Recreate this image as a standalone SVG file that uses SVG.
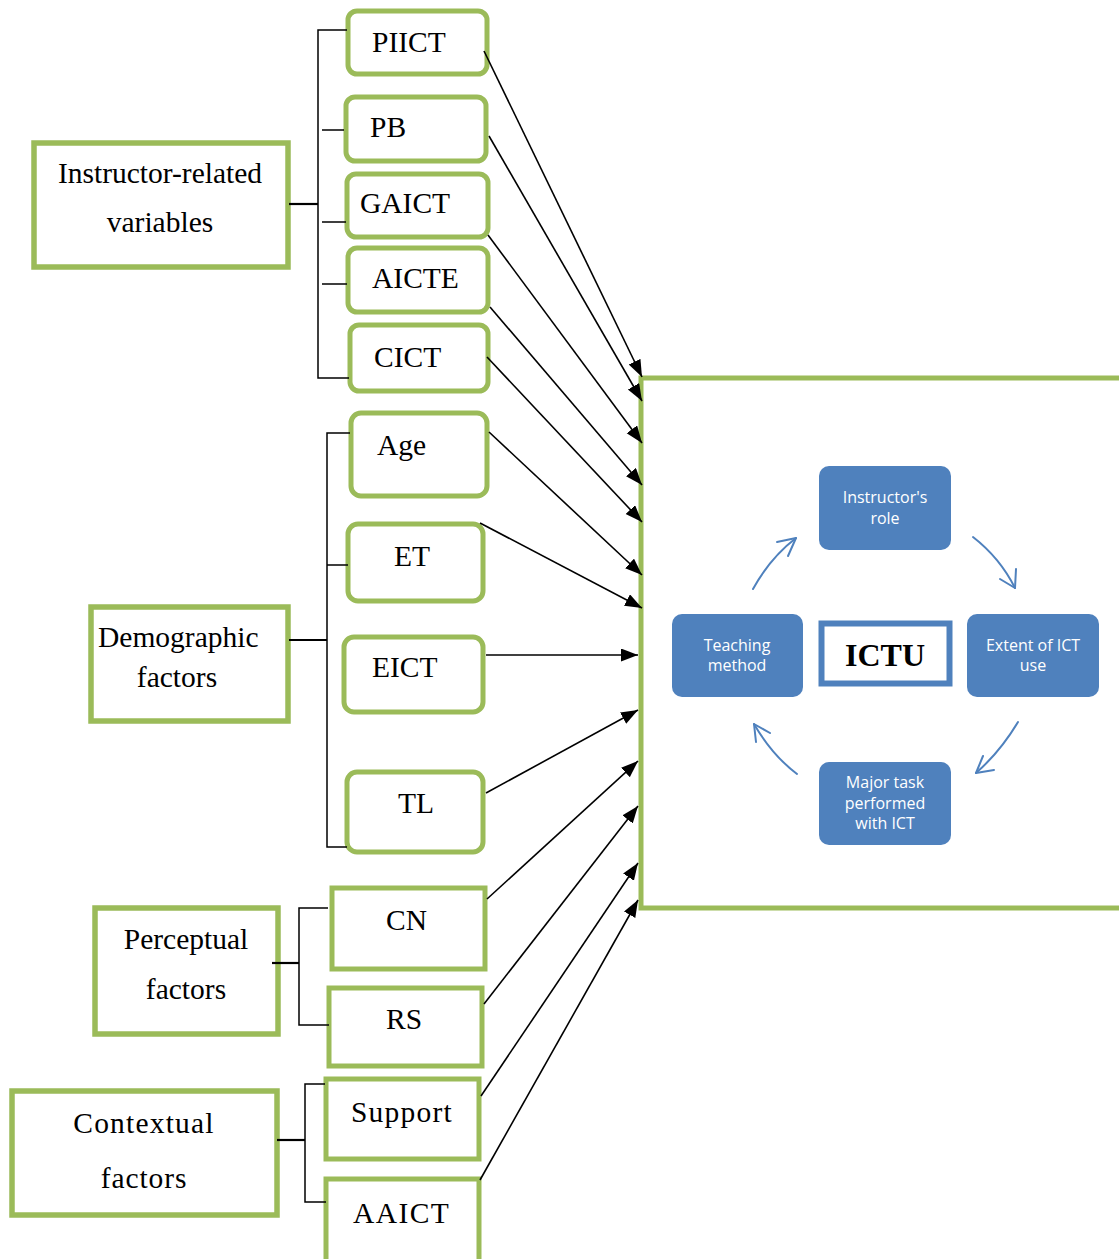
<svg xmlns="http://www.w3.org/2000/svg" width="1119" height="1259" viewBox="0 0 1119 1259">
  <style>
    .grp { fill: #ffffff; stroke: #9BBB59; stroke-width: 5.5; }
    .node { fill: #ffffff; stroke: #9BBB59; stroke-width: 5; }
    .lbl { font-family: "Liberation Serif", "Times New Roman", serif; font-size: 29.5px; fill: #000000; }
    .brk { fill: none; stroke: #000000; stroke-width: 1.5; }
    .main { fill: none; stroke: #000000; stroke-width: 2.2; }
    .arr { stroke: #000000; stroke-width: 1.6; marker-end: url(#tri); }
    .cyc { fill: #4F81BD; }
    .cyctxt { font-family: "Open Sans", "Noto Sans", sans-serif; font-size: 16px; fill: #ffffff; text-anchor: middle; }
    .curve { fill: none; stroke: #4F81BD; stroke-width: 2; stroke-linecap: round; stroke-linejoin: round; }
  </style>
  <defs>
    <marker id="tri" markerUnits="userSpaceOnUse" markerWidth="18" markerHeight="14" refX="17" refY="6.5" orient="auto">
      <path d="M0,0 L17,6.5 L0,13 z" fill="#000000"/>
    </marker>
  </defs>
  <rect width="1119" height="1259" fill="#ffffff"/>

  <!-- outcome panel -->
  <g id="ictu-panel">
    <rect x="641" y="378" width="600" height="530" fill="#ffffff" stroke="#9BBB59" stroke-width="5"/>
  </g>

  <!-- category boxes -->
  <g id="instructor-related">
    <rect class="grp" x="34" y="143" width="254" height="124"/>
    <text class="lbl" x="160" y="183" text-anchor="middle">Instructor-related</text>
    <text class="lbl" x="160" y="232" text-anchor="middle">variables</text>
  </g>
  <g id="demographic">
    <rect class="grp" x="91" y="607" width="197" height="114"/>
    <text class="lbl" x="98" y="647">Demographic</text>
    <text class="lbl" x="177" y="687" text-anchor="middle">factors</text>
  </g>
  <g id="perceptual">
    <rect class="grp" x="95" y="908" width="183" height="126"/>
    <text class="lbl" x="186" y="949" text-anchor="middle">Perceptual</text>
    <text class="lbl" x="186" y="999" text-anchor="middle">factors</text>
  </g>
  <g id="contextual">
    <rect class="grp" x="12" y="1091" width="265" height="124"/>
    <text class="lbl" x="144" y="1133" text-anchor="middle" font-size="32" letter-spacing="1.2">Contextual</text>
    <text class="lbl" x="144" y="1188" text-anchor="middle" font-size="32" letter-spacing="0.9">factors</text>
  </g>

  <!-- variable nodes -->
  <g id="piict"><rect class="node" x="348" y="11" width="139" height="63" rx="9"/><text class="lbl" x="372" y="52">PIICT</text></g>
  <g id="pb"><rect class="node" x="346" y="97" width="140" height="64" rx="9"/><text class="lbl" x="370" y="137">PB</text></g>
  <g id="gaict"><rect class="node" x="347" y="174" width="141" height="63" rx="9"/><text class="lbl" x="360" y="213">GAICT</text></g>
  <g id="aicte"><rect class="node" x="348" y="248" width="140" height="64" rx="9"/><text class="lbl" x="372" y="288">AICTE</text></g>
  <g id="cict"><rect class="node" x="350" y="325" width="138" height="66" rx="9"/><text class="lbl" x="374" y="367">CICT</text></g>
  <g id="age"><rect class="node" x="351" y="413" width="136" height="83" rx="10"/><text class="lbl" x="377" y="455" font-size="28.5">Age</text></g>
  <g id="et"><rect class="node" x="348" y="524" width="135" height="77" rx="10"/><text class="lbl" x="394" y="566" font-size="26.5">ET</text></g>
  <g id="eict"><rect class="node" x="344" y="637" width="139" height="75" rx="10"/><text class="lbl" x="372" y="677" font-size="26.5">EICT</text></g>
  <g id="tl"><rect class="node" x="347" y="772" width="136" height="80" rx="10"/><text class="lbl" x="398" y="813" font-size="28">TL</text></g>
  <g id="cn"><rect class="node" x="332" y="888" width="153" height="81"/><text class="lbl" x="386" y="930" font-size="30">CN</text></g>
  <g id="rs"><rect class="node" x="329" y="988" width="153" height="78"/><text class="lbl" x="386" y="1029" font-size="31">RS</text></g>
  <g id="support"><rect class="node" x="326" y="1079" width="153" height="80"/><text class="lbl" x="351" y="1122" font-size="31.5" letter-spacing="1.2">Support</text></g>
  <g id="aaict"><rect class="node" x="326" y="1179" width="153" height="84"/><text class="lbl" x="353" y="1223" font-size="31.5" letter-spacing="1.4">AAICT</text></g>

  <!-- ICTU cycle -->
  <g id="instructors-role">
    <rect class="cyc" x="819" y="466" width="132" height="84" rx="10"/>
    <text class="cyctxt" x="885" y="503">Instructor's</text>
    <text class="cyctxt" x="885" y="524">role</text>
  </g>
  <g id="teaching-method">
    <rect class="cyc" x="672" y="614" width="131" height="83" rx="10"/>
    <text class="cyctxt" x="737" y="651">Teaching</text>
    <text class="cyctxt" x="737" y="671">method</text>
  </g>
  <g id="extent-of-ict-use">
    <rect class="cyc" x="967" y="614" width="132" height="83" rx="10"/>
    <text class="cyctxt" x="1033" y="651">Extent of ICT</text>
    <text class="cyctxt" x="1033" y="671">use</text>
  </g>
  <g id="major-task">
    <rect class="cyc" x="819" y="762" width="132" height="83" rx="10"/>
    <text class="cyctxt" x="885" y="788">Major task</text>
    <text class="cyctxt" x="885" y="809">performed</text>
    <text class="cyctxt" x="885" y="829">with ICT</text>
  </g>
  <g id="ictu">
    <rect x="821.5" y="623.5" width="128" height="60" fill="#ffffff" stroke="#4F81BD" stroke-width="6"/>
    <text x="885" y="666" text-anchor="middle" font-family="'Liberation Serif', 'Times New Roman', serif" font-size="32" font-weight="bold" fill="#000000">ICTU</text>
  </g>

  <!-- connectors -->
  <g id="connectors">
    <!-- brackets -->
    <path class="brk" d="M347,30 H318 V378 H349 M322,130 H344 M322,222 H346 M322,284 H347"/>
    <path class="main" d="M289,204 H318"/>
    <path class="brk" d="M350,433 H327 V847 H347 M327,565 H348"/>
    <path class="main" d="M289,640 H327"/>
    <path class="brk" d="M328,908 H299 V1025 H329"/>
    <path class="main" d="M272,963 H299"/>
    <path class="brk" d="M325,1084 H305 V1202 H326"/>
    <path class="main" d="M277,1140 H305"/>

    <!-- influence arrows -->
    <line class="arr" x1="484" y1="51" x2="642" y2="377"/>
    <line class="arr" x1="489" y1="136" x2="642" y2="401"/>
    <line class="arr" x1="488" y1="235" x2="642" y2="443"/>
    <line class="arr" x1="490" y1="307" x2="642" y2="485"/>
    <line class="arr" x1="487" y1="357" x2="642" y2="522"/>
    <line class="arr" x1="489" y1="432" x2="642" y2="575"/>
    <line class="arr" x1="480" y1="523" x2="642" y2="608"/>
    <line class="arr" x1="486" y1="655" x2="638" y2="655"/>
    <line class="arr" x1="486" y1="793" x2="638" y2="710"/>
    <line class="arr" x1="487" y1="899" x2="638" y2="761"/>
    <line class="arr" x1="484" y1="1004" x2="638" y2="806"/>
    <line class="arr" x1="481" y1="1096" x2="638" y2="863"/>
    <line class="arr" x1="480" y1="1180" x2="638" y2="900"/>

    <!-- cycle arrows -->
    <path class="curve" d="M753,589 Q770,558 796,538"/>
    <path class="curve" d="M777,542 L796,538 L788,556"/>
    <path class="curve" d="M973,537 Q1000,558 1015,588"/>
    <path class="curve" d="M1000,579 L1015,588 L1016,569"/>
    <path class="curve" d="M1018,722 Q1000,752 976,773"/>
    <path class="curve" d="M983,756 L976,773 L994,770"/>
    <path class="curve" d="M797,774 Q772,755 754,724"/>
    <path class="curve" d="M770,733 L754,724 L756,742"/>
  </g>
</svg>
